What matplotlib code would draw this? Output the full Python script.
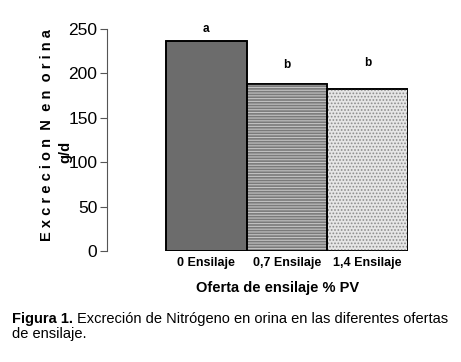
import matplotlib
matplotlib.use('Agg')
import matplotlib.pyplot as plt

# datos
categorias = ['0 Ensilaje', '0,7 Ensilaje', '1,4 Ensilaje']
excrecion_n = [236, 188, 182]
letras = ['a', 'b', 'b']
y_letras = [250, 210, 212]
y_ticks = [0, 50, 100, 150, 200, 250]

plt.rcParams['font.family'] = ['Liberation Sans', 'DejaVu Sans']
plt.rcParams['hatch.linewidth'] = 0.8

fig = plt.figure(figsize=(4.61, 3.62), dpi=100)
ax = fig.add_axes([107 / 461, 111 / 362, 301 / 461, 222 / 362])

x = list(range(len(categorias)))
caras = ['#6c6c6c', '#7a7a7a', '#e6e6e6']
tramas = [None, '------', '.....']
color_trama = [None, '#c4c4c4', '#8c8c8c']

for i in x:
    ax.bar(i, excrecion_n[i], width=1.0, color=caras[i], edgecolor='black',
           linewidth=1.2, zorder=2)
    if tramas[i]:
        ax.bar(i, excrecion_n[i], width=1.0, color='none', edgecolor=color_trama[i],
               hatch=tramas[i], linewidth=0, zorder=3)
    ax.bar(i, excrecion_n[i], width=1.0, color='none', edgecolor='black',
           linewidth=1.2, zorder=4)
    ax.text(i, y_letras[i], letras[i], ha='center', va='center',
            fontsize=8.5, fontweight='bold')

ax.set_xlim(-0.5 - 59 / 81, 2.5)
ax.set_ylim(0, 250)
ax.set_yticks(y_ticks)
ax.set_yticklabels([str(v) for v in y_ticks], fontsize=12.5)
ax.tick_params(axis='y', length=5, width=0.8, pad=2, color='#555555')
ax.set_xticks(x)
ax.set_xticklabels(categorias, fontsize=9, fontweight='bold')
ax.tick_params(axis='x', length=0, pad=4)

for s in ['top', 'right', 'bottom']:
    ax.spines[s].set_visible(False)
ax.spines['left'].set_color('#555555')
ax.spines['left'].set_linewidth(0.8)

fig.text(47 / 461, 1 - 135 / 362, ' '.join('Excrecion') + '  N  ' + ' '.join('en') + '  ' + ' '.join('orina'),
         rotation=90, ha='center', va='center', fontsize=10.5, fontweight='bold')
fig.text(65 / 461, 1 - 152 / 362, 'g/d', rotation=90, ha='center', va='center',
         fontsize=10.5, fontweight='bold')

fig.text(278 / 461, 1 - 288 / 362, 'Oferta de ensilaje % PV', ha='center', va='center',
         fontsize=10.5, fontweight='bold')

fig.text(12 / 461, 1 - 319 / 362, 'Figura 1.', ha='left', va='center',
         fontsize=10.5, fontweight='bold')
fig.text(77 / 461, 1 - 319 / 362, 'Excreción de Nitrógeno en orina en las diferentes ofertas',
         ha='left', va='center', fontsize=10.5)
fig.text(12 / 461, 1 - 334 / 362, 'de ensilaje.', ha='left', va='center', fontsize=10.5)

fig.savefig('out.png', dpi=100)
